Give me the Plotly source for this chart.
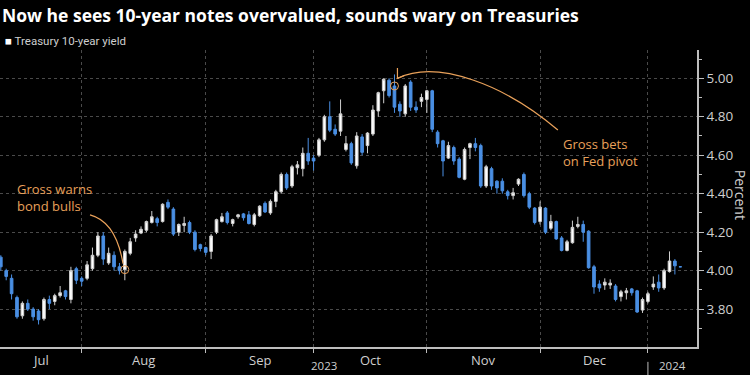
import pandas as pd
import plotly.graph_objects as go

# ---------------- data ----------------
holidays = ["2023-09-04", "2023-10-09", "2023-11-23", "2023-12-25", "2024-01-01"]
dates = [d for d in pd.bdate_range("2023-07-10", "2024-01-09") if d.strftime("%Y-%m-%d") not in holidays]

open_ = [4.07, 4.00, 3.96, 3.86, 3.765, 3.83, 3.80, 3.79, 3.75, 3.85, 3.84, 3.87, 3.895, 3.85, 4.01, 3.96,
         3.96, 4.01, 4.08, 4.18, 4.04, 4.08, 4.02, 4.005, 4.09, 4.17, 4.195, 4.21, 4.25, 4.27, 4.255, 4.355,
         4.32, 4.20, 4.235, 4.25, 4.20, 4.135, 4.12,
         4.10, 4.20, 4.255, 4.30, 4.245, 4.28, 4.295, 4.29, 4.24, 4.285, 4.35, 4.30, 4.36, 4.41, 4.50, 4.44,
         4.535, 4.53, 4.61, 4.585,
         4.60, 4.68, 4.80, 4.735, 4.725, 4.63, 4.66, 4.545, 4.695, 4.65, 4.71, 4.83, 4.935, 4.99, 4.96, 4.865,
         4.815, 4.98, 4.85, 4.88, 4.89,
         4.935, 4.72, 4.675, 4.585, 4.64, 4.58, 4.475, 4.64, 4.66, 4.65, 4.44, 4.53, 4.465, 4.465, 4.41, 4.39,
         4.45, 4.50, 4.40, 4.325, 4.255,
         4.325, 4.22, 4.255, 4.17, 4.105, 4.145, 4.23, 4.24, 4.205, 4.02, 3.93, 3.925, 3.925, 3.92, 3.865,
         3.885, 3.905, 3.895, 3.795, 3.84,
         3.915, 3.94, 3.91, 3.995, 4.05, 4.02]
high = [4.08, 4.01, 3.98, 3.87, 3.84, 3.85, 3.81, 3.80, 3.86, 3.87, 3.88, 3.92, 3.90, 4.02, 4.02, 3.97,
        4.05, 4.12, 4.20, 4.20, 4.12, 4.10, 4.04, 4.11, 4.17, 4.21, 4.23, 4.26, 4.31, 4.28, 4.35, 4.37,
        4.33, 4.245, 4.28, 4.26, 4.21, 4.14, 4.125,
        4.19, 4.27, 4.30, 4.31, 4.27, 4.295, 4.30, 4.31, 4.30, 4.34, 4.36, 4.37, 4.42, 4.51, 4.51, 4.55,
        4.57, 4.64, 4.69, 4.60,
        4.69, 4.81, 4.88, 4.76, 4.89, 4.70, 4.67, 4.72, 4.71, 4.72, 4.86, 4.93, 5.00, 5.00, 5.02, 4.88,
        4.97, 4.99, 4.88, 4.92, 4.94,
        4.94, 4.73, 4.68, 4.67, 4.65, 4.59, 4.64, 4.665, 4.69, 4.66, 4.55, 4.54, 4.47, 4.48, 4.42, 4.43,
        4.48, 4.51, 4.41, 4.33, 4.36,
        4.33, 4.29, 4.26, 4.18, 4.16, 4.26, 4.28, 4.26, 4.21, 4.03, 3.95, 3.96, 3.955, 3.93, 3.90,
        3.91, 3.91, 3.90, 3.86, 3.89,
        3.97, 3.98, 4.01, 4.10, 4.06, 4.022]
low = [4.00, 3.95, 3.85, 3.75, 3.75, 3.79, 3.74, 3.72, 3.74, 3.80, 3.82, 3.86, 3.85, 3.83, 3.93, 3.92,
       3.95, 4.00, 4.07, 4.03, 4.03, 4.00, 3.98, 3.95, 4.08, 4.15, 4.19, 4.20, 4.245, 4.23, 4.25, 4.32,
       4.18, 4.18, 4.20, 4.19, 4.10, 4.10, 4.08,
       4.06, 4.19, 4.25, 4.24, 4.23, 4.27, 4.26, 4.24, 4.23, 4.28, 4.30, 4.29, 4.33, 4.40, 4.42, 4.43,
       4.50, 4.49, 4.55, 4.52,
       4.59, 4.67, 4.72, 4.70, 4.70, 4.62, 4.55, 4.53, 4.60, 4.61, 4.70, 4.80, 4.87, 4.90, 4.82, 4.80,
       4.80, 4.83, 4.82, 4.85, 4.82,
       4.72, 4.64, 4.49, 4.58, 4.55, 4.48, 4.47, 4.58, 4.62, 4.43, 4.43, 4.42, 4.40, 4.40, 4.37, 4.37,
       4.44, 4.38, 4.32, 4.24, 4.24,
       4.19, 4.21, 4.16, 4.10, 4.10, 4.14, 4.22, 4.15, 4.01, 3.88, 3.89, 3.90, 3.905, 3.84, 3.84,
       3.85, 3.87, 3.78, 3.78, 3.83,
       3.90, 3.89, 3.90, 3.99, 3.98, 4.018]
close = [4.02, 3.97, 3.88, 3.76, 3.83, 3.80, 3.76, 3.745, 3.85, 3.83, 3.87, 3.885, 3.865, 4.00, 3.95, 3.945,
         4.03, 4.08, 4.18, 4.06, 4.09, 4.02, 4.00, 4.10, 4.15, 4.19, 4.215, 4.255, 4.28, 4.25, 4.345, 4.33,
         4.19, 4.24, 4.245, 4.20, 4.11, 4.115, 4.095,
         4.18, 4.265, 4.28, 4.25, 4.265, 4.29, 4.275, 4.245, 4.29, 4.335, 4.305, 4.36, 4.41, 4.50, 4.43, 4.54,
         4.55, 4.61, 4.57, 4.57,
         4.68, 4.80, 4.73, 4.71, 4.815, 4.66, 4.56, 4.70, 4.615, 4.715, 4.835, 4.925, 4.995, 4.91, 4.85, 4.83,
         4.96, 4.85, 4.835, 4.90, 4.935,
         4.735, 4.66, 4.57, 4.65, 4.57, 4.485, 4.63, 4.66, 4.64, 4.44, 4.54, 4.44, 4.43, 4.415, 4.39, 4.405,
         4.475, 4.39, 4.33, 4.25, 4.33,
         4.20, 4.255, 4.165, 4.105, 4.15, 4.225, 4.24, 4.20, 4.015, 3.915, 3.91, 3.94, 3.935, 3.85, 3.89,
         3.895, 3.885, 3.785, 3.85, 3.88,
         3.93, 3.91, 4.00, 4.05, 4.025, 4.02]

y_ticks = [3.80, 4.00, 4.20, 4.40, 4.60, 4.80, 5.00]
month_names = ["Jul", "Aug", "Sep", "Oct", "Nov", "Dec"]
years = ["2023", "2024"]
callout_dates = ["2023-08-10", "2023-10-23"]
callout_texts = ["Gross warns<br>bond bulls", "Gross bets<br>on Fed pivot"]

# ---------------- layout helpers ----------------
n = len(dates)
idx = list(range(n))
date_str = [d.strftime("%Y-%m-%d") for d in dates]
x_lo, x_hi = -0.15, n + 2.1
# month boundary = last trading day of each month
bounds = [i for i in range(n - 1) if dates[i].month != dates[i + 1].month]
mids = []
prev = x_lo
for b in bounds:
    mids.append((prev + b) / 2)
    prev = b

ORANGE = "#e9a15a"
GRID = "#4a4a4a"
AX = "#bdbdbd"
TXT = "#cfcfcf"
BLUE = "#4a8fe3"
FONT = "Open Sans"

fig = go.Figure()
fig.add_trace(go.Candlestick(
    x=idx, open=open_, high=high, low=low, close=close,
    increasing=dict(line=dict(color="#cfcfcf", width=1), fillcolor="#ffffff"),
    decreasing=dict(line=dict(color=BLUE, width=1), fillcolor=BLUE),
    showlegend=False, hoverinfo="skip",
))

ci = [date_str.index(d) for d in callout_dates]
fig.add_trace(go.Scatter(
    x=ci, y=[open_[i] for i in ci], mode="markers",
    marker=dict(symbol="circle-open", size=8, color=ORANGE, line=dict(width=1, color=ORANGE)),
    showlegend=False, hoverinfo="skip",
))

fig.update_layout(
    width=750, height=375,
    margin=dict(l=0, r=53, t=50, b=28),
    paper_bgcolor="#000000", plot_bgcolor="#000000",
    font=dict(family=FONT, color=TXT, size=13),
    boxgap=0.3,
    xaxis=dict(
        range=[x_lo, x_hi], rangeslider=dict(visible=False),
        tickvals=bounds, ticktext=["" for _ in bounds],
        showgrid=True, gridcolor=GRID, griddash="dot", gridwidth=1,
        showline=True, linecolor=AX, linewidth=1.5,
        ticks="outside", ticklen=4, tickcolor=AX, zeroline=False,
    ),
    yaxis=dict(
        side="right", range=[3.603, 5.147],
        tickvals=y_ticks, ticktext=[f"{v:.2f}" for v in y_ticks],
        showgrid=True, gridcolor=GRID, griddash="dot", gridwidth=1,
        showline=True, linecolor=AX, linewidth=1.5,
        ticks="outside", ticklen=5, tickcolor=AX, zeroline=False,
        tickfont=dict(size=13.5, color=TXT),
        minor=dict(dtick=0.1, tick0=3.7, ticks="outside", ticklen=3, tickcolor=AX, showgrid=False),
    ),
)

ann = []
# title & legend
ann.append(dict(xref="paper", yref="paper", x=0.0, y=1.118, xanchor="left", yanchor="middle",
                text="<b>Now he sees 10-year notes overvalued, sounds wary on Treasuries</b>",
                showarrow=False, font=dict(size=17.5, color="#ffffff", family=FONT)))
ann.append(dict(xref="paper", yref="paper", x=0.005, y=1.030, xanchor="left", yanchor="middle",
                text="<span style='color:#ffffff'>■</span> Treasury 10-year yield",
                showarrow=False, font=dict(size=11.5, color=TXT, family="Roboto")))
# month labels
for m, xm in zip(month_names, mids):
    ann.append(dict(xref="x", yref="paper", x=xm, y=-0.045, xanchor="center", yanchor="middle",
                    text=m, showarrow=False, font=dict(size=13, color=TXT)))
# year labels
ann.append(dict(xref="x", yref="paper", x=(x_lo + bounds[-1]) / 2, y=-0.094, xanchor="center", yanchor="bottom",
                text=years[0], showarrow=False, font=dict(size=11.5, color=TXT)))
ann.append(dict(xref="x", yref="paper", x=(bounds[-1] + x_hi) / 2, y=-0.094, xanchor="center", yanchor="bottom",
                text=years[1], showarrow=False, font=dict(size=11.5, color=TXT)))
# axis title
ann.append(dict(xref="paper", yref="paper", x=1.062, y=0.512, xanchor="center", yanchor="middle",
                text="Percent", textangle=90, showarrow=False, font=dict(size=14, color=TXT)))
# callout texts
ann.append(dict(xref="x", yref="y", x=2.6, y=4.38, xanchor="left", yanchor="middle",
                text=callout_texts[0], showarrow=False, align="left",
                font=dict(size=13, color=ORANGE)))
ann.append(dict(xref="x", yref="y", x=103.9, y=4.613, xanchor="left", yanchor="middle",
                text=callout_texts[1], showarrow=False, align="left",
                font=dict(size=13, color=ORANGE)))
fig.update_layout(annotations=ann)

shapes = []
# year separator
shapes.append(dict(type="line", xref="x", yref="paper", x0=bounds[-1], x1=bounds[-1], y0=-0.05, y1=-0.10,
                   line=dict(color=AX, width=1)))
# callout curves
shapes.append(dict(type="path", xref="x", yref="y",
                   path="M 16.54 4.290 Q 21.36 4.2545 22.66 4.036",
                   line=dict(color=ORANGE, width=1.2)))
shapes.append(dict(type="path", xref="x", yref="y",
                   path="M 103.3 4.731 C 93.5 4.965 81.0 5.10 73.6 5.00",
                   line=dict(color=ORANGE, width=1.2)))
shapes.append(dict(type="path", xref="x", yref="y",
                   path="M 73.55 5.054 L 73.55 5.000 L 74.8 5.013",
                   line=dict(color=ORANGE, width=1.2)))
fig.update_layout(shapes=shapes)

fig.write_html("out.html", config={"displayModeBar": False},
               post_script="document.body.style.margin='0px';")
